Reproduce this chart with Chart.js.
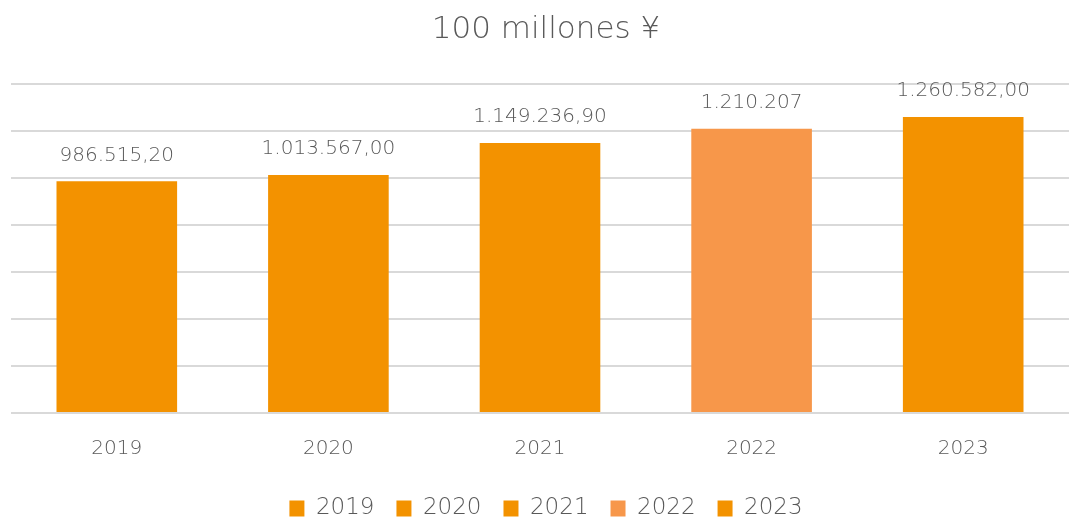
<!DOCTYPE html>
<html>
<head>
<meta charset="utf-8">
<script src="https://cdn.jsdelivr.net/npm/chart.js@4"></script>
<style>
  html, body { margin: 0; padding: 0; background: #fff; }
  #wrap { width: 1069px; height: 520px; position: relative; }
</style>
</head>
<body>
<div id="wrap"><canvas id="chart"></canvas></div>
<script>
const years = ['2019', '2020', '2021', '2022', '2023']
const values = [986515.20, 1013567.00, 1149236.90, 1210207, 1260582.00]
const valueLabels = ['986.515,20', '1.013.567,00', '1.149.236,90', '1.210.207', '1.260.582,00']
const barColors = ['#F39200', '#F39200', '#F39200', '#F7974A', '#F39200']

const FONT = "'DejaVu Sans', sans-serif"
const TEXT = '#595959'

// value labels above each bar
const barLabels = {
  id: 'barLabels',
  afterDatasetsDraw(chart) {
    const ctx = chart.ctx
    const meta = chart.getDatasetMeta(0)
    ctx.save()
    ctx.font = '200 20px ' + FONT
    ctx.fillStyle = TEXT
    ctx.textAlign = 'center'
    ctx.textBaseline = 'middle'
    meta.data.forEach((bar, i) => {
      ctx.fillText(valueLabels[i], bar.x, bar.y - 26)
    })
    ctx.restore()
  }
}

// pull the legend row a little closer to the axis labels
const legendNudge = {
  id: 'legendNudge',
  afterLayout(chart) {
    if (chart.legend) {
      chart.legend.top -= 10
      chart.legend.bottom -= 10
    }
  }
}

new Chart(document.getElementById('chart'), {
  type: 'bar',
  data: {
    labels: years,
    datasets: [{
      label: '100 millones ¥',
      data: values,
      backgroundColor: barColors,
      borderWidth: 0,
      barPercentage: 1,
      categoryPercentage: 0.57,
    }]
  },
  options: {
    responsive: true,
    maintainAspectRatio: false,
    animation: false,
    layout: { padding: { left: 11, right: -12, top: 8, bottom: -20 } },
    scales: {
      x: {
        grid: { display: false, drawTicks: false },
        border: { display: false },
        ticks: { color: TEXT, font: { family: FONT, size: 20, weight: '200' }, padding: 24 },
      },
      y: {
        min: 0,
        max: 1400000,
        ticks: { display: false, stepSize: 200000 },
        border: { display: false },
        grid: { color: '#D9D9D9', lineWidth: 2, drawTicks: false },
      }
    },
    plugins: {
      title: {
        display: true,
        text: '100 millones ¥',
        color: TEXT,
        font: { family: FONT, size: 31, weight: '200' },
        padding: { top: 3, bottom: 36 },
      },
      legend: {
        position: 'bottom',
        labels: {
          color: TEXT,
          font: { family: FONT, size: 23, weight: '200' },
          boxWidth: 15,
          boxHeight: 16,
          padding: 22,
          generateLabels: () => years.map((y, i) => ({
            text: y,
            fillStyle: barColors[i],
            strokeStyle: barColors[i],
            lineWidth: 0,
            hidden: false,
            index: i,
            fontColor: TEXT,
          })),
        },
        onClick: () => {},
      },
      tooltip: { enabled: false },
    }
  },
  plugins: [barLabels, legendNudge]
})
</script>
</body>
</html>
